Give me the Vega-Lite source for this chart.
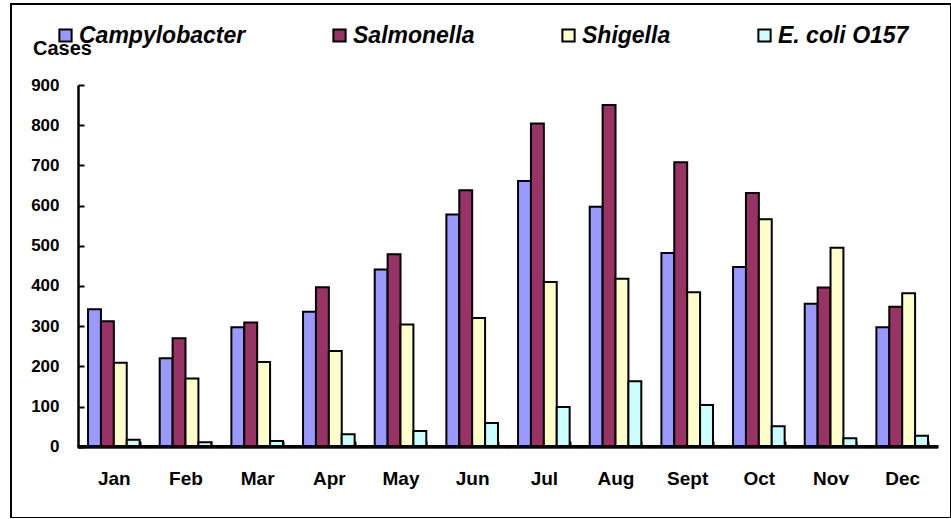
{
  "$schema": "https://vega.github.io/schema/vega-lite/v6.json",
  "autosize": "none",
  "padding": {"left": 11, "top": 4, "right": 0, "bottom": 0},
  "width": 940,
  "height": 514,
  "background": "white",
  "config": {
    "view": {"stroke": "black", "strokeWidth": 2},
    "font": "Liberation Sans"
  },
  "data": {
    "values": [
      {"month": "Jan", "series": "Campylobacter", "cases": 342},
      {"month": "Jan", "series": "Salmonella", "cases": 312},
      {"month": "Jan", "series": "Shigella", "cases": 209},
      {"month": "Jan", "series": "E. coli O157", "cases": 17},
      {"month": "Feb", "series": "Campylobacter", "cases": 220},
      {"month": "Feb", "series": "Salmonella", "cases": 270},
      {"month": "Feb", "series": "Shigella", "cases": 170},
      {"month": "Feb", "series": "E. coli O157", "cases": 11},
      {"month": "Mar", "series": "Campylobacter", "cases": 297},
      {"month": "Mar", "series": "Salmonella", "cases": 309},
      {"month": "Mar", "series": "Shigella", "cases": 211},
      {"month": "Mar", "series": "E. coli O157", "cases": 14},
      {"month": "Apr", "series": "Campylobacter", "cases": 336},
      {"month": "Apr", "series": "Salmonella", "cases": 397},
      {"month": "Apr", "series": "Shigella", "cases": 238},
      {"month": "Apr", "series": "E. coli O157", "cases": 31},
      {"month": "May", "series": "Campylobacter", "cases": 441},
      {"month": "May", "series": "Salmonella", "cases": 479},
      {"month": "May", "series": "Shigella", "cases": 304},
      {"month": "May", "series": "E. coli O157", "cases": 39},
      {"month": "Jun", "series": "Campylobacter", "cases": 578},
      {"month": "Jun", "series": "Salmonella", "cases": 638},
      {"month": "Jun", "series": "Shigella", "cases": 320},
      {"month": "Jun", "series": "E. coli O157", "cases": 59},
      {"month": "Jul", "series": "Campylobacter", "cases": 661},
      {"month": "Jul", "series": "Salmonella", "cases": 804},
      {"month": "Jul", "series": "Shigella", "cases": 410},
      {"month": "Jul", "series": "E. coli O157", "cases": 99},
      {"month": "Aug", "series": "Campylobacter", "cases": 597},
      {"month": "Aug", "series": "Salmonella", "cases": 850},
      {"month": "Aug", "series": "Shigella", "cases": 418},
      {"month": "Aug", "series": "E. coli O157", "cases": 163},
      {"month": "Sept", "series": "Campylobacter", "cases": 482},
      {"month": "Sept", "series": "Salmonella", "cases": 708},
      {"month": "Sept", "series": "Shigella", "cases": 384},
      {"month": "Sept", "series": "E. coli O157", "cases": 104},
      {"month": "Oct", "series": "Campylobacter", "cases": 447},
      {"month": "Oct", "series": "Salmonella", "cases": 631},
      {"month": "Oct", "series": "Shigella", "cases": 566},
      {"month": "Oct", "series": "E. coli O157", "cases": 51},
      {"month": "Nov", "series": "Campylobacter", "cases": 356},
      {"month": "Nov", "series": "Salmonella", "cases": 396},
      {"month": "Nov", "series": "Shigella", "cases": 495},
      {"month": "Nov", "series": "E. coli O157", "cases": 21},
      {"month": "Dec", "series": "Campylobacter", "cases": 297},
      {"month": "Dec", "series": "Salmonella", "cases": 348},
      {"month": "Dec", "series": "Shigella", "cases": 382},
      {"month": "Dec", "series": "E. coli O157", "cases": 27}
    ]
  },
  "encoding": {
    "x": {
      "field": "month",
      "type": "nominal",
      "sort": ["Jan","Feb","Mar","Apr","May","Jun","Jul","Aug","Sept","Oct","Nov","Dec"],
      "scale": {"paddingInner": 0.28, "paddingOuter": 0.698, "align": 0.77},
      "axis": {
        "title": null,
        "labelAngle": 0,
        "labelFont": "Liberation Sans",
        "labelFontWeight": "bold",
        "labelFontSize": 19,
        "labelColor": "black",
        "labelPadding": 28,
        "tickBand": "extent",
        "tickSize": -6,
        "tickWidth": 2,
        "tickColor": "black",
        "domain": false,
        "offset": -71,
        "grid": false
      }
    }
  },
  "layer": [
    {
      "mark": {"type": "bar", "stroke": "black", "strokeWidth": 2, "cornerRadius": 0},
      "encoding": {
        "xOffset": {
          "field": "series",
          "type": "nominal",
          "sort": ["Campylobacter", "Salmonella", "Shigella", "E. coli O157"],
          "scale": {"paddingInner": 0, "paddingOuter": 0}
        },
        "y": {
          "field": "cases",
          "type": "quantitative",
          "scale": {"domain": [0, 900], "range": [442.7, 81], "nice": false},
          "axis": {
            "values": [0,50,100,150,200,250,300,350,400,450,500,550,600,650,700,750,800,850,900],
            "labelExpr": "datum.value % 100 == 0 ? datum.label : ''",
            "labelFont": "Liberation Sans",
            "labelFontWeight": "bold",
            "labelFontSize": 17,
            "labelColor": "black",
            "labelPadding": 25,
            "tickSize": -6,
            "tickWidth": 2,
            "tickColor": "black",
            "domainColor": "black",
            "domainWidth": 2.5,
            "offset": -67,
            "grid": false,
            "title": "Cases",
            "titleAngle": 0,
            "titleFont": "Liberation Sans",
            "titleFontWeight": "bold",
            "titleFontSize": 20,
            "titleColor": "black",
            "titleAlign": "center",
            "titleBaseline": "alphabetic",
            "titleX": -16,
            "titleY": 50
          }
        },
        "fill": {
          "field": "series",
          "type": "nominal",
          "sort": ["Campylobacter", "Salmonella", "Shigella", "E. coli O157"],
          "scale": {
            "domain": ["Campylobacter", "Salmonella", "Shigella", "E. coli O157"],
            "range": ["#9999FF", "#993366", "#FFFFCC", "#CCFFFF"]
          },
          "legend": {
            "title": null,
            "orient": "none",
            "legendX": 43,
            "legendY": 20,
            "direction": "horizontal",
            "columns": 4,
            "gridAlign": "none",
            "columnPadding": 82,
            "symbolType": "square",
            "symbolSize": 150,
            "symbolStrokeColor": "black",
            "symbolStrokeWidth": 2,
            "symbolOpacity": 1,
            "labelFont": "Liberation Sans",
            "labelFontWeight": "bold",
            "labelFontStyle": "italic",
            "labelFontSize": 23,
            "labelColor": "black",
            "labelOffset": 2,
            "labelLimit": 400
          }
        }
      }
    },
    {
      "mark": {"type": "tick", "orient": "horizontal", "color": "black", "thickness": 3, "size": 72, "opacity": 1},
      "encoding": {
        "y": {"datum": 0, "type": "quantitative"}
      }
    }
  ]
}
